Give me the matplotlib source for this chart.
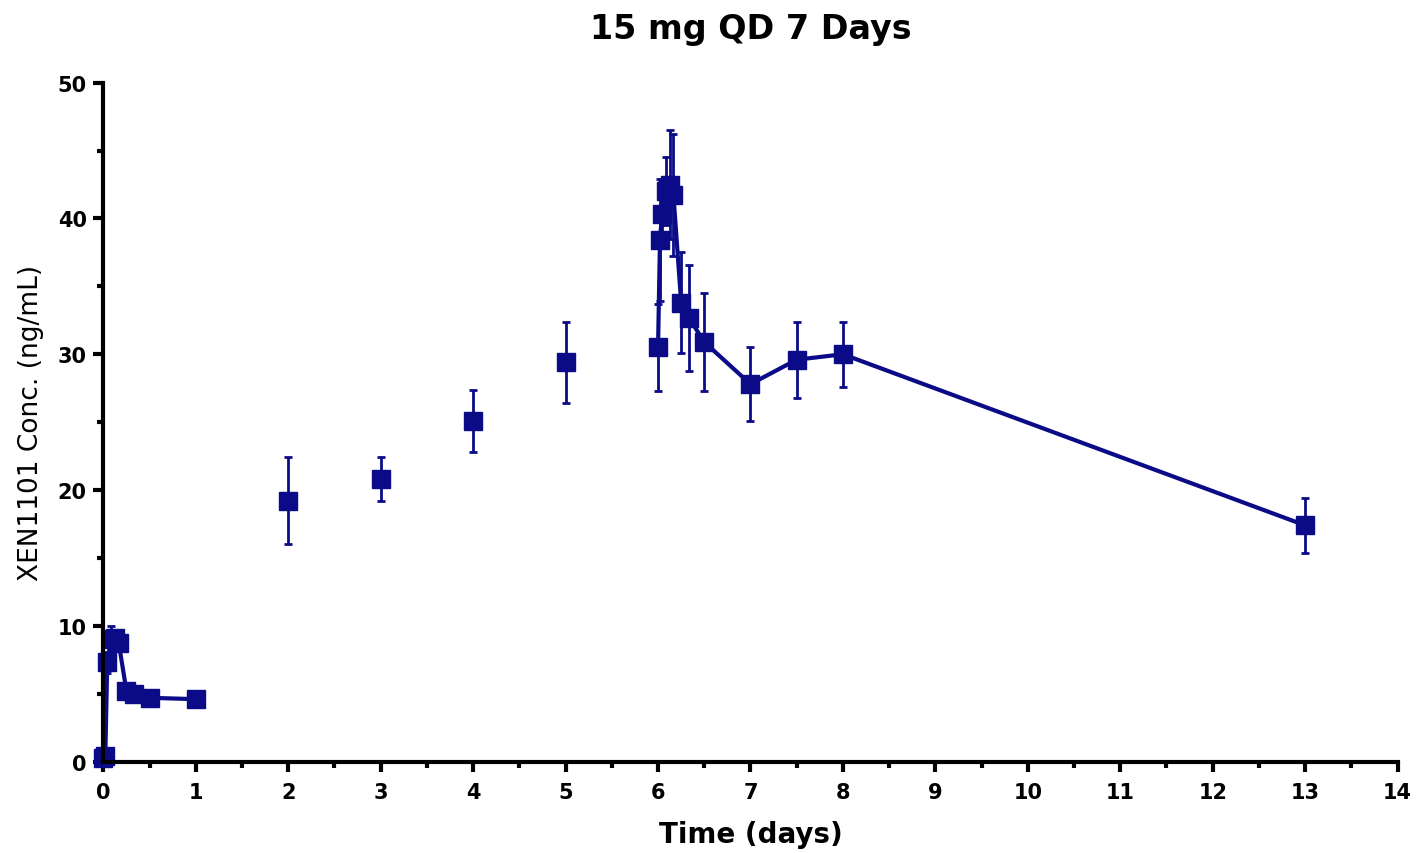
import numpy as np
import matplotlib
matplotlib.use('Agg')
import matplotlib.pyplot as plt
from matplotlib.ticker import MultipleLocator

# Day 1 profile (connected)
t_day1 = [0, 0.021, 0.042, 0.083, 0.125, 0.167, 0.25, 0.333, 0.5, 1.0]
c_day1 = [0.3, 0.4, 7.3, 9.0, 9.1, 8.7, 5.2, 5.0, 4.7, 4.6]
e_day1 = [0.2, 0.3, 0.8, 1.0, 0.6, 0.5, 0.4, 0.4, 0.4, 0.3]

# Troughs (not connected)
t_trough = [2, 3, 4, 5]
c_trough = [19.2, 20.8, 25.1, 29.4]
e_trough = [3.2, 1.6, 2.3, 3.0]

# Day 7 profile (connected)
t_day7 = [6.0, 6.021, 6.042, 6.083, 6.125, 6.167, 6.25, 6.333, 6.5, 7.0, 7.5, 8.0, 13.0]
c_day7 = [30.5, 38.4, 40.3, 42.0, 42.5, 41.7, 33.8, 32.7, 30.9, 27.8, 29.6, 30.0, 17.4]
e_day7 = [3.2, 4.5, 2.5, 2.5, 4.0, 4.5, 3.7, 3.9, 3.6, 2.7, 2.8, 2.4, 2.0]

navy = '#0b0b88'
plt.rcParams['font.family'] = ['DejaVu Sans']

fig = plt.figure(figsize=(14.16, 8.54), dpi=100)
ax = fig.add_axes([0.073, 0.107, 0.914, 0.795])

style = dict(color=navy, marker='s', markersize=12.5, capsize=3, elinewidth=2,
             capthick=2, clip_on=False)
ax.errorbar(t_day1, c_day1, yerr=e_day1, linewidth=3, **style)
ax.errorbar(t_trough, c_trough, yerr=e_trough, linestyle='none', **style)
ax.errorbar(t_day7, c_day7, yerr=e_day7, linewidth=3, **style)

ax.set_xlim(0, 14)
ax.set_ylim(0, 50)
ax.xaxis.set_major_locator(MultipleLocator(1))
ax.xaxis.set_minor_locator(MultipleLocator(0.5))
ax.yaxis.set_major_locator(MultipleLocator(10))
ax.yaxis.set_minor_locator(MultipleLocator(5))

for s in ['top', 'right']:
    ax.spines[s].set_visible(False)
for s in ['left', 'bottom']:
    ax.spines[s].set_linewidth(3)
ax.tick_params(which='major', direction='out', length=7, width=3, labelsize=15)
ax.tick_params(axis='x', which='major', pad=8)
ax.tick_params(axis='y', which='major', pad=5)
ax.tick_params(which='minor', direction='out', length=4, width=3)
for lab in ax.get_xticklabels() + ax.get_yticklabels():
    lab.set_fontweight('bold')

ax.set_xlabel('Time (days)', fontsize=20, fontweight='bold', va='center')
ax.xaxis.set_label_coords(0.5, -0.107)
ax.set_ylabel('XEN1101 Conc. (ng/mL)', fontsize=19, va='center')
ax.yaxis.set_label_coords(-0.056, 0.5)
fig.text(0.5 * (0.073 + 0.987), 1 - 30 / 854, '15 mg QD 7 Days', fontsize=24,
         fontweight='bold', ha='center', va='center')

plt.savefig('out.png', dpi=100)
